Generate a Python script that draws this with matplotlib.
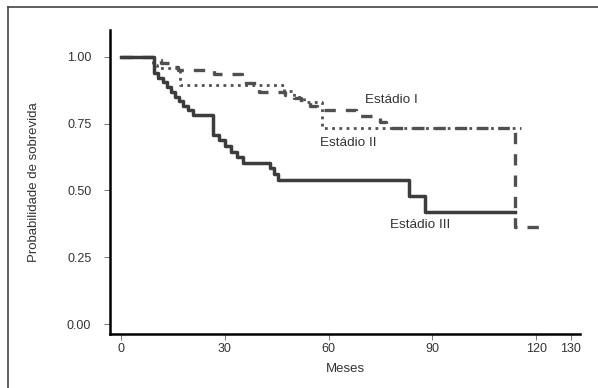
import matplotlib
matplotlib.use("Agg")
import matplotlib.pyplot as plt
from matplotlib.lines import Line2D

plt.rcParams['font.family'] = ['Liberation Sans', 'DejaVu Sans']

# Kaplan-Meier steps (months, survival)
t_stage1 = [0, 9.3, 11.5, 15.5, 16.5, 27, 35, 40, 47.5, 50, 52, 54.5, 56.6, 68, 75, 76.5, 113.9, 122]
s_stage1 = [1.0, 0.988, 0.975, 0.963, 0.95, 0.935, 0.90, 0.867, 0.856, 0.845, 0.83, 0.815, 0.80, 0.78, 0.757, 0.733, 0.362, 0.362]

t_stage2 = [0, 9.3, 10.5, 17, 47, 50, 53, 58, 115.5]
s_stage2 = [1.0, 0.97, 0.957, 0.894, 0.872, 0.851, 0.83, 0.733, 0.733]

t_stage3 = [0, 9.6, 10.8, 12, 13.2, 14.4, 15.6, 16.8, 18, 19.4, 20.8, 26.6, 28.3, 30, 31.7, 33.5, 35.3,
            43, 44.2, 45.4, 83.2, 87.9, 113.9]
s_stage3 = [1.0, 0.94, 0.922, 0.904, 0.886, 0.868, 0.85, 0.833, 0.816, 0.80, 0.783, 0.708, 0.687, 0.666,
            0.645, 0.624, 0.604, 0.582, 0.56, 0.538, 0.479, 0.42, 0.42]

xticks = [0, 30, 60, 90, 120, 130]
yticks = [0.00, 0.25, 0.50, 0.75, 1.00]

fig = plt.figure(figsize=(5.98, 3.88), dpi=100)
ax = fig.add_axes([110/598, 54/388, 470/598, 304/388])

ax.step(t_stage1, s_stage1, where='post', color='#505050', lw=2.4, linestyle=(0, (3.4, 3.0)))
ax.step(t_stage2, s_stage2, where='post', color='#505050', lw=2.0, linestyle=(0, (1, 1.6)))
ax.step(t_stage3, s_stage3, where='post', color='#3c3c3c', lw=2.5)

ax.text(70.5, 0.838, 'Estádio I', fontsize=9.7, color='#333333', va='center')
ax.text(57.5, 0.677, 'Estádio II', fontsize=9.7, color='#333333', va='center')
ax.text(77.7, 0.369, 'Estádio III', fontsize=9.7, color='#333333', va='center')

ax.set_xlim(-3.2, 132.7)
ax.set_ylim(-0.037, 1.10)
ax.set_xticks(xticks)
ax.set_xticklabels([str(v) for v in xticks])
ax.set_yticks(yticks)
ax.set_yticklabels(['%.2f' % v for v in yticks])

for side in ['top', 'right']:
    ax.spines[side].set_visible(False)
for side in ['left', 'bottom']:
    ax.spines[side].set_linewidth(1.8)
    ax.spines[side].set_color('black')

ax.tick_params(axis='both', direction='out', length=4.5, width=0.7, color='#777777',
               labelcolor='#333333', labelsize=9)
ax.tick_params(axis='y', pad=9)
ax.tick_params(axis='x', pad=2)

ax.set_xlabel('Meses', fontsize=9.5, color='#333333', labelpad=6)
ax.set_ylabel('Probabilidade de sobrevida', fontsize=9.5, color='#333333', labelpad=19)

# outer frame (only left and top edges inside the picture)
fig.add_artist(Line2D([8/598, 8/598], [0, 1 - 7/388], transform=fig.transFigure, color='#444444', lw=1.2))
fig.add_artist(Line2D([8/598, 1], [1 - 7/388, 1 - 7/388], transform=fig.transFigure, color='#444444', lw=1.2))

fig.savefig('out.png', dpi=100)
